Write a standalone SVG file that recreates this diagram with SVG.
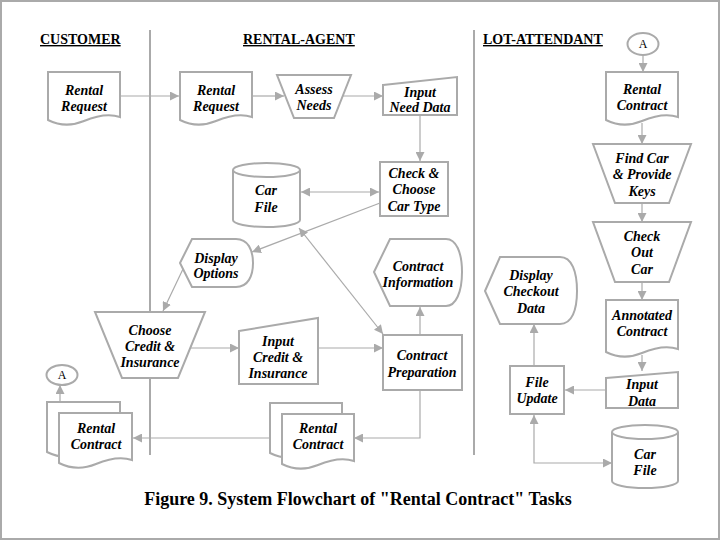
<svg xmlns="http://www.w3.org/2000/svg" width="720" height="540" viewBox="0 0 720 540">
<style>
.sh{fill:#fff;stroke:#aaaaaa;stroke-width:2}
.ln{fill:none;stroke:#aaaaaa;stroke-width:1.2}
.lane{stroke:#aaaaaa;stroke-width:2}
.t{font-family:"Liberation Serif","Times New Roman","DejaVu Serif",serif;font-size:14px;font-weight:bold;font-style:italic;text-anchor:middle;fill:#000}
.h{font-family:"Liberation Serif","Times New Roman",serif;font-size:14px;font-weight:bold;text-decoration:underline;fill:#000}
.c{font-family:"Liberation Serif","Times New Roman",serif;font-size:12px;text-anchor:middle;fill:#000}
.title{font-family:"Liberation Serif","Times New Roman",serif;font-size:18px;font-weight:bold;text-anchor:middle;fill:#000}
</style>
<defs>
<marker id="ah" viewBox="0 0 10 10" refX="10" refY="5" markerWidth="9" markerHeight="9" markerUnits="userSpaceOnUse" orient="auto-start-reverse">
<path d="M0,0 L10,5 L0,10 Z" fill="#aaaaaa"/>
</marker>
</defs>
<rect x="1" y="1" width="718" height="538" fill="#fff" stroke="#aaaaaa" stroke-width="2"/>
<g id="lanes">
<line class="lane" x1="150" y1="30" x2="150" y2="455"/>
<line class="lane" x1="474" y1="30" x2="474" y2="455"/>
<text class="h" x="40" y="44">CUSTOMER</text>
<text class="h" x="243" y="44">RENTAL-AGENT</text>
<text class="h" x="483" y="44">LOT-ATTENDANT</text>
</g>
<g id="connectors">
<line class="ln" x1="120" y1="96" x2="179" y2="96" marker-end="url(#ah)"/>
<line class="ln" x1="252" y1="96" x2="284" y2="96" marker-end="url(#ah)"/>
<line class="ln" x1="343" y1="96" x2="383" y2="96" marker-end="url(#ah)"/>
<line class="ln" x1="420" y1="115" x2="420" y2="161" marker-end="url(#ah)"/>
<line class="ln" x1="301" y1="192" x2="379" y2="192" marker-start="url(#ah)" marker-end="url(#ah)"/>
<line class="ln" x1="380" y1="203" x2="252" y2="252" marker-end="url(#ah)"/>
<line class="ln" x1="183" y1="269" x2="163" y2="311" marker-end="url(#ah)"/>
<line class="ln" x1="299" y1="228" x2="383" y2="334" marker-start="url(#ah)" marker-end="url(#ah)"/>
<line class="ln" x1="420" y1="335" x2="420" y2="307" marker-end="url(#ah)"/>
<line class="ln" x1="190" y1="348" x2="239" y2="348" marker-end="url(#ah)"/>
<line class="ln" x1="318" y1="348" x2="383" y2="348" marker-end="url(#ah)"/>
<polyline class="ln" points="420,390 420,438 354,438" marker-end="url(#ah)"/>
<line class="ln" x1="270" y1="438" x2="133" y2="438" marker-end="url(#ah)"/>
<line class="ln" x1="60" y1="402" x2="60" y2="385" marker-end="url(#ah)"/>
<line class="ln" x1="643" y1="55" x2="643" y2="72" marker-end="url(#ah)"/>
<line class="ln" x1="642" y1="123" x2="642" y2="144" marker-end="url(#ah)"/>
<line class="ln" x1="642" y1="203" x2="642" y2="222" marker-end="url(#ah)"/>
<line class="ln" x1="642" y1="282" x2="642" y2="300" marker-end="url(#ah)"/>
<line class="ln" x1="642" y1="355" x2="642" y2="371" marker-end="url(#ah)"/>
<line class="ln" x1="606" y1="390" x2="565" y2="390" marker-end="url(#ah)"/>
<line class="ln" x1="534" y1="366" x2="534" y2="324" marker-end="url(#ah)"/>
<polyline class="ln" points="534,415 534,463 612,463" marker-start="url(#ah)" marker-end="url(#ah)"/>
</g>
<g id="cust-rental-request">
<path class="sh" d="M48,72 H120 V117 C108,113 96,116 84,121 C72,126 60,126 48,120 Z"/>
<text class="t" x="84" y="95">Rental</text>
<text class="t" x="84" y="111">Request</text>
</g>
<g id="agent-rental-request">
<path class="sh" d="M180,72 H252 V117 C240,113 228,116 216,121 C204,126 192,126 180,120 Z"/>
<text class="t" x="216" y="95">Rental</text>
<text class="t" x="216" y="111">Request</text>
</g>
<g id="assess-needs">
<path class="sh" d="M277,75 H351 L334,118 H294 Z"/>
<text class="t" x="314" y="94">Assess</text>
<text class="t" x="314" y="110">Needs</text>
</g>
<g id="input-need-data">
<path class="sh" d="M383,85 L457,77 V115 H383 Z"/>
<text class="t" x="420" y="97">Input</text>
<text class="t" x="420" y="112">Need Data</text>
</g>
<g id="check-choose">
<rect class="sh" x="380" y="162" width="68" height="54"/>
<text class="t" x="414" y="178">Check &amp;</text>
<text class="t" x="414" y="194">Choose</text>
<text class="t" x="414" y="211">Car Type</text>
</g>
<g id="car-file-agent">
<path class="sh" d="M233,170 A33.5,7 0 0 1 300,170 V220 A33.5,7 0 0 1 233,220 Z"/>
<path class="ln" style="stroke-width:2" d="M233,170 A33.5,7 0 0 0 300,170"/>
<text class="t" x="266" y="195">Car</text>
<text class="t" x="266" y="212">File</text>
</g>
<g id="display-options">
<path class="sh" d="M180,263 L192,239 H236 C248,239 253,250 253,263 C253,276 248,287 236,287 H192 Z"/>
<text class="t" x="216" y="263">Display</text>
<text class="t" x="216" y="278">Options</text>
</g>
<g id="contract-information">
<path class="sh" d="M374,272 L390,239 H446 C456,239 462,252 462,272 C462,292 456,306 446,306 H390 Z"/>
<text class="t" x="418" y="271">Contract</text>
<text class="t" x="418" y="287">Information</text>
</g>
<g id="contract-preparation">
<rect class="sh" x="383" y="335" width="79" height="55"/>
<text class="t" x="422" y="360">Contract</text>
<text class="t" x="422" y="377">Preparation</text>
</g>
<g id="choose-credit">
<path class="sh" d="M95,312 H205 L178,378 H122 Z"/>
<text class="t" x="150" y="335">Choose</text>
<text class="t" x="150" y="351">Credit &amp;</text>
<text class="t" x="150" y="367">Insurance</text>
</g>
<g id="input-credit">
<path class="sh" d="M239,331 L318,318 V384 H239 Z"/>
<text class="t" x="278" y="346">Input</text>
<text class="t" x="278" y="362">Credit &amp;</text>
<text class="t" x="278" y="378">Insurance</text>
</g>
<g id="cust-rental-contract">
<path class="sh" d="M47,402 H120 V449 C108,445 96,448 84,453 C72,458 59,458 47,452 Z"/>
<path class="sh" d="M59,413 H132 V460 C120,456 108,459 96,464 C84,469 71,469 59,463 Z"/>
<text class="t" x="96" y="433">Rental</text>
<text class="t" x="96" y="449">Contract</text>
</g>
<g id="conn-a-customer">
<ellipse class="sh" cx="62" cy="375" rx="15.5" ry="10"/>
<text class="c" x="62" y="379">A</text>
</g>
<g id="agent-rental-contract">
<path class="sh" d="M270,403 H342 V450 C330,446 318,449 306,454 C294,459 282,459 270,453 Z"/>
<path class="sh" d="M282,414 H354 V461 C342,457 330,460 318,465 C306,470 294,470 282,464 Z"/>
<text class="t" x="318" y="433">Rental</text>
<text class="t" x="318" y="449">Contract</text>
</g>
<g id="conn-a-lot">
<ellipse class="sh" cx="643" cy="44" rx="15.5" ry="11"/>
<text class="c" x="643" y="48">A</text>
</g>
<g id="lot-rental-contract">
<path class="sh" d="M606,72 H678 V117 C666,113 654,116 642,121 C630,126 618,126 606,120 Z"/>
<text class="t" x="642" y="94">Rental</text>
<text class="t" x="642" y="110">Contract</text>
</g>
<g id="find-car">
<path class="sh" d="M593,144 H691 L669,203 H615 Z"/>
<text class="t" x="642" y="163">Find Car</text>
<text class="t" x="642" y="179">&amp; Provide</text>
<text class="t" x="642" y="196">Keys</text>
</g>
<g id="check-out-car">
<path class="sh" d="M593,222 H691 L669,282 H615 Z"/>
<text class="t" x="642" y="241">Check</text>
<text class="t" x="642" y="257">Out</text>
<text class="t" x="642" y="274">Car</text>
</g>
<g id="annotated-contract">
<path class="sh" d="M606,300 H678 V349 C666,345 654,348 642,353 C630,358 618,358 606,352 Z"/>
<text class="t" x="642" y="320">Annotated</text>
<text class="t" x="642" y="336">Contract</text>
</g>
<g id="input-data">
<path class="sh" d="M606,378 L678,372 V408 H606 Z"/>
<text class="t" x="642" y="389">Input</text>
<text class="t" x="642" y="406">Data</text>
</g>
<g id="file-update">
<rect class="sh" x="510" y="366" width="54" height="48"/>
<text class="t" x="537" y="387">File</text>
<text class="t" x="537" y="403">Update</text>
</g>
<g id="display-checkout">
<path class="sh" d="M485,291 L500,257 H560 C572,257 577,272 577,291 C577,310 572,324 560,324 H500 Z"/>
<text class="t" x="531" y="280">Display</text>
<text class="t" x="531" y="296">Checkout</text>
<text class="t" x="531" y="313">Data</text>
</g>
<g id="car-file-lot">
<path class="sh" d="M612,432 A33,7 0 0 1 678,432 V481 A33,7 0 0 1 612,481 Z"/>
<path class="ln" style="stroke-width:2" d="M612,432 A33,7 0 0 0 678,432"/>
<text class="t" x="645" y="459">Car</text>
<text class="t" x="645" y="475">File</text>
</g>
<text class="title" x="358" y="505">Figure 9. System Flowchart of "Rental Contract" Tasks</text>
</svg>
